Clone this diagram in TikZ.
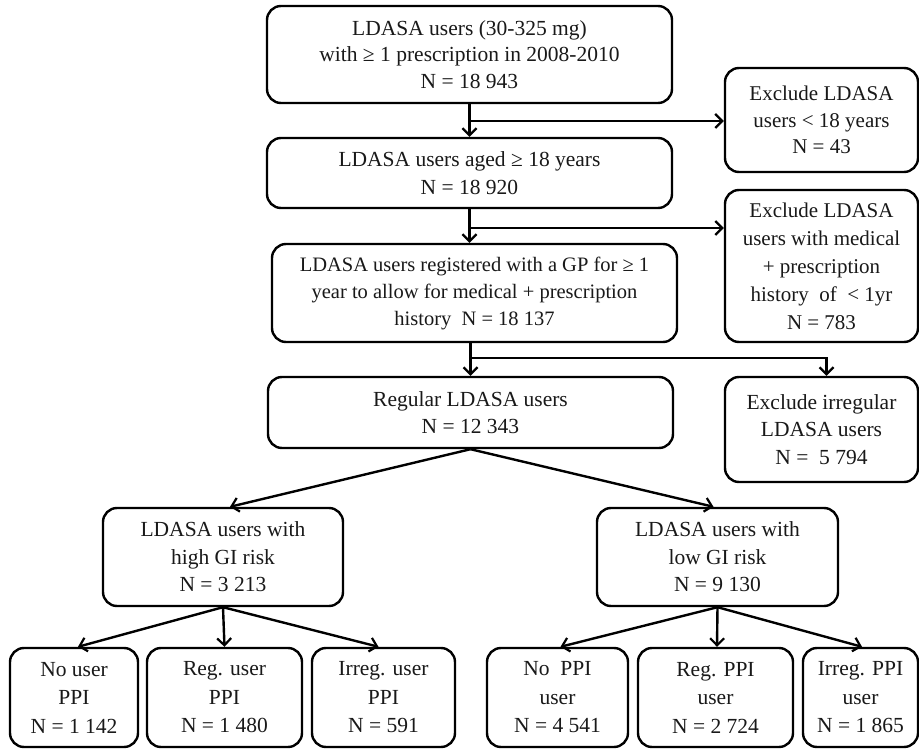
\documentclass[tikz,border=0pt]{standalone}
\usepackage{fontspec}
\setmainfont{Liberation Serif}
\usetikzlibrary{arrows.meta}
\begin{document}
\begin{tikzpicture}[x=1pt,y=-1pt,
  box/.style={draw=black, line width=2.4pt, rounded corners=14pt, align=center,
    inner sep=0pt, font=\fontsize{21.5}{27.5}\selectfont, text=black!90},
  arr/.style={line width=2.4pt, -{Straight Barb[length=7pt,width=14pt,line width=2.2pt]}},
  ln/.style={line width=2.4pt}]
\useasboundingbox (0,0) rectangle (919,749);
\fill[white] (0,0) rectangle (919,749);
\node[box, minimum width=405pt, minimum height=97pt, font=\fontsize{21.5}{26.5}\selectfont] (b1) at (469.5,54.5)
  {LDASA users (30-325 mg)\\with ≥ 1 prescription in 2008-2010\\N = 18 943};
\node[box, minimum width=405pt, minimum height=70pt] (b2) at (469.5,173)
  {LDASA users aged ≥ 18 years\\N = 18 920};
\node[box, minimum width=405pt, minimum height=98pt, font=\fontsize{20.5}{27}\selectfont] (b3) at (474.5,293)
  {LDASA users registered with a GP for ≥ 1\\year to allow for medical + prescription\\history\ \ N = 18 137};
\node[box, minimum width=405pt, minimum height=71pt] (b4) at (470.5,412.5)
  {Regular LDASA users\\N = 12 343};
\node[box, minimum width=193pt, minimum height=104pt, font=\fontsize{21}{26.5}\selectfont] (e1) at (821.5,120)
  {Exclude LDASA\\users < 18 years\\N = 43};
\node[box, minimum width=193pt, minimum height=152pt, font=\fontsize{21}{28}\selectfont] (e2) at (821.5,266)
  {Exclude LDASA\\users with medical\\+ prescription\\history\ \ of\ \ < 1yr\\N = 783};
\node[box, minimum width=193pt, minimum height=105pt] (e3) at (821.5,429.5)
  {Exclude irregular\\LDASA users\\N =\ \ 5 794};
\node[box, minimum width=240pt, minimum height=98pt] (h) at (223,557)
  {LDASA users with\\high GI risk\\N = 3 213};
\node[box, minimum width=241pt, minimum height=98pt] (l) at (717.5,557)
  {LDASA users with\\low GI risk\\N = 9 130};
\node[box, minimum width=128pt, minimum height=99pt, font=\fontsize{21.5}{28.5}\selectfont] (a1) at (74,697.5)
  {No user\\PPI\\N = 1 142};
\node[box, minimum width=155pt, minimum height=99pt, font=\fontsize{21.5}{28.5}\selectfont] (a2) at (224.5,697.5)
  {Reg. user\\PPI\\N = 1 480};
\node[box, minimum width=143pt, minimum height=99pt, font=\fontsize{21.5}{28.5}\selectfont] (a3) at (383.5,697.5)
  {Irreg. user\\PPI\\N = 591};
\node[box, minimum width=141pt, minimum height=99pt, font=\fontsize{21.5}{28.5}\selectfont] (c1) at (557.5,697.5)
  {No\ \ PPI\\user\\N = 4 541};
\node[box, minimum width=155pt, minimum height=99pt, font=\fontsize{21.5}{28.5}\selectfont] (c2) at (715.5,697.5)
  {Reg. PPI\\user\\N = 2 724};
\node[box, minimum width=115pt, minimum height=99pt, font=\fontsize{21.5}{28.5}\selectfont] (c3) at (860.5,697.5)
  {Irreg. PPI\\user\\N = 1 865};
% main chain
\coordinate (j1) at (469.5,121);
\coordinate (j2) at (469.5,228);
\coordinate (j3) at (470.5,358);
\draw[arr] (b1.south) -- (b2.north);
\draw[arr] (j1) -- (j1 -| e1.west);
\draw[arr] (b2.south) -- (b2.south |- b3.north);
\draw[arr] (j2) -- (j2 -| e2.west);
\draw[arr] (b4.north |- b3.south) -- (b4.north);
\draw[arr] (j3) -| ([xshift=5pt]e3.north);
\draw[arr] (b4.south) -- ([xshift=7pt]h.north);
\draw[arr] (b4.south) -- ([xshift=-4pt]l.north);
\draw[arr] (h.south) -- ([xshift=4pt]a1.north);
\draw[arr] (h.south) -- (a2.north);
\draw[arr] (h.south) -- ([xshift=-5pt]a3.north);
\draw[arr] (l.south) -- ([xshift=3pt]c1.north);
\draw[arr] (l.south) -- ([xshift=1.5pt]c2.north);
\draw[arr] (l.south) -- ([xshift=1.5pt]c3.north);
\end{tikzpicture}
\end{document}
